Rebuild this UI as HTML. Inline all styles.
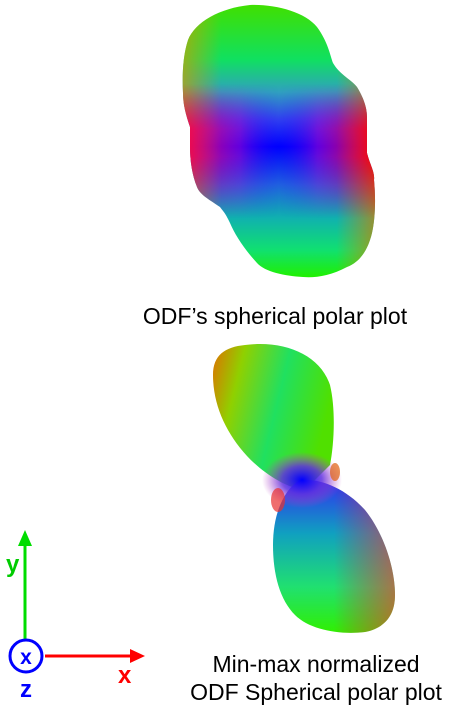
<!DOCTYPE html>
<html><head><meta charset="utf-8"><style>
html,body{margin:0;padding:0;background:#fff;}
svg{display:block;}
text{font-family:"Liberation Sans",Arial,sans-serif;}
</style></head><body>
<svg width="458" height="720" viewBox="0 0 458 720">
<defs>
  <linearGradient id="gv" x1="0" y1="0" x2="0" y2="1">
    <stop offset="0" stop-color="#40e000"/>
    <stop offset="0.2" stop-color="#10e060"/>
    <stop offset="0.32" stop-color="#30a0c0"/>
    <stop offset="0.42" stop-color="#3040f0"/>
    <stop offset="0.52" stop-color="#0000ff"/>
    <stop offset="0.66" stop-color="#2060e0"/>
    <stop offset="0.78" stop-color="#10b0b0"/>
    <stop offset="0.9" stop-color="#10e070"/>
    <stop offset="1" stop-color="#20f000"/>
  </linearGradient>
  <linearGradient id="gh" x1="0" y1="0" x2="1" y2="0">
    <stop offset="0" stop-color="#ff0040" stop-opacity="0.95"/>
    <stop offset="0.3" stop-color="#c000c0" stop-opacity="0.5"/>
    <stop offset="0.5" stop-color="#2000ff" stop-opacity="0"/>
    <stop offset="0.7" stop-color="#c000c0" stop-opacity="0.5"/>
    <stop offset="1" stop-color="#ff0000" stop-opacity="0.95"/>
  </linearGradient>
  <linearGradient id="mv" x1="0" y1="0" x2="0" y2="1">
    <stop offset="0.3" stop-color="#fff" stop-opacity="0"/>
    <stop offset="0.46" stop-color="#fff" stop-opacity="1"/>
    <stop offset="0.56" stop-color="#fff" stop-opacity="1"/>
    <stop offset="0.78" stop-color="#fff" stop-opacity="0"/>
  </linearGradient>
  <mask id="m1"><rect x="180" y="0" width="200" height="280" fill="url(#mv)"/></mask>
  <linearGradient id="gsides" x1="0" y1="0" x2="1" y2="0">
    <stop offset="0" stop-color="#c8a000" stop-opacity="0.7"/>
    <stop offset="0.2" stop-color="#c8a000" stop-opacity="0"/>
    <stop offset="0.8" stop-color="#c89000" stop-opacity="0"/>
    <stop offset="1" stop-color="#d08000" stop-opacity="0.7"/>
  </linearGradient>
  <linearGradient id="gu" x1="0" y1="0" x2="1" y2="0.3">
    <stop offset="0" stop-color="#e07000"/>
    <stop offset="0.25" stop-color="#90d000"/>
    <stop offset="0.6" stop-color="#20e060"/>
    <stop offset="1" stop-color="#50e000"/>
  </linearGradient>
  <linearGradient id="gl" x1="0" y1="0" x2="0" y2="1">
    <stop offset="0" stop-color="#3030f0"/>
    <stop offset="0.35" stop-color="#10a0c0"/>
    <stop offset="0.7" stop-color="#20e070"/>
    <stop offset="1" stop-color="#30f000"/>
  </linearGradient>
  <linearGradient id="glr" x1="0" y1="0" x2="1" y2="0">
    <stop offset="0.5" stop-color="#ff0040" stop-opacity="0"/>
    <stop offset="1" stop-color="#ff3030" stop-opacity="0.6"/>
  </linearGradient>
  <radialGradient id="gc" cx="0.5" cy="0.5" r="0.5">
    <stop offset="0" stop-color="#0000ff"/>
    <stop offset="0.5" stop-color="#6030e0" stop-opacity="0.85"/>
    <stop offset="1" stop-color="#c040c0" stop-opacity="0"/>
  </radialGradient>
  <path id="topshape" d="M250,5 C275,4 305,12 317,27 C328,42 330,55 333,63 C340,75 352,80 357,87 C365,100 367,110 367,117 L367,153 C370,165 375,172 374,180 C376,200 375,220 372,233 C368,250 360,262 347,267 C330,276 315,278 303,277 C285,276 265,272 257,263 C245,250 235,235 230,223 C225,212 222,210 220,207 C210,200 200,195 197,187 C192,175 190,160 190,147 L190,127 C186,115 183,105 183,93 C182,75 183,55 188,40 C195,22 220,8 250,5 Z"/>
</defs>

<g>
  <use href="#topshape" fill="url(#gv)"/>
  <use href="#topshape" fill="url(#gsides)"/>
  <use href="#topshape" mask="url(#m1)" fill="url(#gh)"/>
</g>
<text x="275" y="324" font-size="23" text-anchor="middle" fill="#000">ODF’s spherical polar plot</text>

<g>
  <path d="M245,345 C285,340 320,355 330,385 C336,410 334,445 330,465 L305,490 C285,488 262,472 247,456 C226,433 213,405 213,375 C213,355 225,347 245,345 Z" fill="url(#gu)"/>
  <path d="M300,480 C320,478 345,488 365,510 C385,535 395,570 395,595 C395,615 385,628 365,632 C340,635 310,630 295,615 C280,600 273,575 273,545 C273,515 283,490 300,480 Z" fill="url(#gl)"/>
  <path d="M300,480 C320,478 345,488 365,510 C385,535 395,570 395,595 C395,615 385,628 365,632 C340,635 310,630 295,615 C280,600 273,575 273,545 C273,515 283,490 300,480 Z" fill="url(#glr)"/>
  <ellipse cx="302" cy="480" rx="40" ry="28" fill="url(#gc)"/>
  <ellipse cx="278" cy="500" rx="7" ry="12" fill="#e83030" opacity="0.7"/>
  <ellipse cx="335" cy="472" rx="5" ry="9" fill="#e06010" opacity="0.7"/>
</g>
<text x="316" y="672" font-size="23" text-anchor="middle" fill="#000">Min-max normalized</text>
<text x="316" y="700" font-size="23" text-anchor="middle" fill="#000">ODF Spherical polar plot</text>

<g>
  <line x1="25" y1="640" x2="25" y2="545" stroke="#00dd00" stroke-width="3"/>
  <polygon points="25,530 18,546 32,546" fill="#00dd00"/>
  <text x="6" y="572" font-size="24" font-weight="bold" fill="#00cc00">y</text>
  <line x1="45" y1="656" x2="132" y2="656" stroke="#ff0000" stroke-width="3"/>
  <polygon points="145,656 130,649 130,663" fill="#ff0000"/>
  <text x="118" y="683" font-size="24" font-weight="bold" fill="#ff0000">x</text>
  <circle cx="26" cy="656" r="16" fill="none" stroke="#0000ff" stroke-width="3"/>
  <text x="26" y="664" font-size="21" font-weight="bold" fill="#0000ff" text-anchor="middle">x</text>
  <text x="26" y="697" font-size="24" font-weight="bold" fill="#0000ff" text-anchor="middle">z</text>
</g>
</svg>
</body></html>
